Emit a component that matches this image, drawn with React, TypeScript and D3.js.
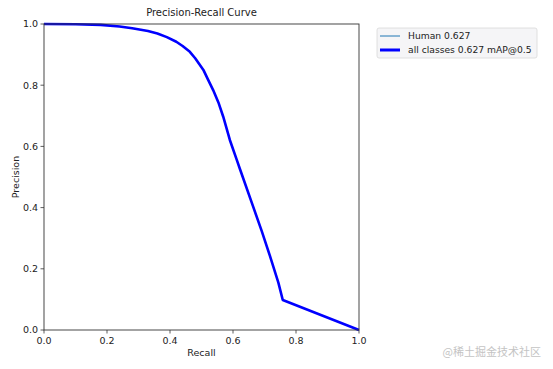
import * as d3 from "d3";

// PR curve (recall → precision)
const recall = [0, 0.1, 0.18, 0.24, 0.28, 0.33, 0.36, 0.39, 0.42, 0.44, 0.463, 0.48, 0.506, 0.52, 0.537, 0.555, 0.569, 0.59, 0.612, 0.622, 0.664, 0.691, 0.717, 0.744, 0.758, 1.0];
const precision = [1.0, 0.999, 0.997, 0.992, 0.986, 0.977, 0.969, 0.957, 0.942, 0.928, 0.909, 0.888, 0.85, 0.82, 0.784, 0.74, 0.697, 0.621, 0.556, 0.526, 0.403, 0.324, 0.243, 0.155, 0.098, 0.0];
const ticks = [0, 0.2, 0.4, 0.6, 0.8, 1.0];
const legendItems = [
  { label: "Human 0.627", color: "#1f77b4", width: 1 },
  { label: "all classes 0.627 mAP@0.5", color: "#0000ff", width: 3 },
];

const W = 553;
const H = 369;
const M = { left: 44, right: 359, top: 24, bottom: 330 };
const FONT = "DejaVu Sans, sans-serif";

export default function App() {
  const x = d3.scaleLinear().domain([0, 1]).range([M.left, M.right]);
  const y = d3.scaleLinear().domain([0, 1]).range([M.bottom, M.top]);
  const pts = recall.map((r, i) => [r, precision[i]] as [number, number]);
  const line = d3
    .line<[number, number]>()
    .x((d) => x(d[0]))
    .y((d) => y(d[1]));
  const path = line(pts) ?? "";

  return (
    <svg
      width={W}
      height={H}
      style={{ position: "absolute", left: 0, top: 0, background: "#fff" }}
      fontFamily={FONT}
    >
      <text x={(M.left + M.right) / 2} y={16} fontSize={10} textAnchor="middle" fill="#222">
        Precision-Recall Curve
      </text>

      {/* curves: thin per-class one under the thick all-classes one */}
      <path d={path} fill="none" stroke={legendItems[0].color} strokeWidth={1} />
      <path d={path} fill="none" stroke={legendItems[1].color} strokeWidth={2.6} strokeLinejoin="round" />

      <rect
        x={M.left}
        y={M.top}
        width={M.right - M.left}
        height={M.bottom - M.top}
        fill="none"
        stroke="#333"
        strokeWidth={0.9}
      />

      {ticks.map((t) => (
        <g key={"x" + t}>
          <line x1={x(t)} x2={x(t)} y1={M.bottom} y2={M.bottom + 3.5} stroke="#333" strokeWidth={0.8} />
          <text x={x(t)} y={M.bottom + 14} fontSize={9.5} textAnchor="middle" fill="#222">
            {t.toFixed(1)}
          </text>
        </g>
      ))}
      {ticks.map((t) => (
        <g key={"y" + t}>
          <line x1={M.left - 3.5} x2={M.left} y1={y(t)} y2={y(t)} stroke="#333" strokeWidth={0.8} />
          <text x={M.left - 6} y={y(t) + 3.4} fontSize={9.5} textAnchor="end" fill="#222">
            {t.toFixed(1)}
          </text>
        </g>
      ))}

      <text x={(M.left + M.right) / 2} y={356} fontSize={9.5} textAnchor="middle" fill="#222">
        Recall
      </text>
      <text
        transform={`translate(19,${(M.top + M.bottom) / 2}) rotate(-90)`}
        fontSize={9.5}
        textAnchor="middle"
        fill="#222"
      >
        Precision
      </text>

      {/* legend */}
      <rect x={377} y={28} width={160} height={30} rx={2} fill="#f5f5f7" stroke="#d8d8d8" strokeWidth={0.8} />
      {legendItems.map((d, i) => (
        <g key={d.label}>
          <line x1={380} x2={400} y1={36 + i * 14} y2={36 + i * 14} stroke={d.color} strokeWidth={d.width} />
          <text x={408} y={39.3 + i * 14} fontSize={9.2} fill="#222">
            {d.label}
          </text>
        </g>
      ))}

      <text x={541} y={356} fontSize={11} textAnchor="end" fill="#c4c4c4" fontFamily="Noto Sans CJK SC, sans-serif">
        @稀土掘金技术社区
      </text>
    </svg>
  );
}
